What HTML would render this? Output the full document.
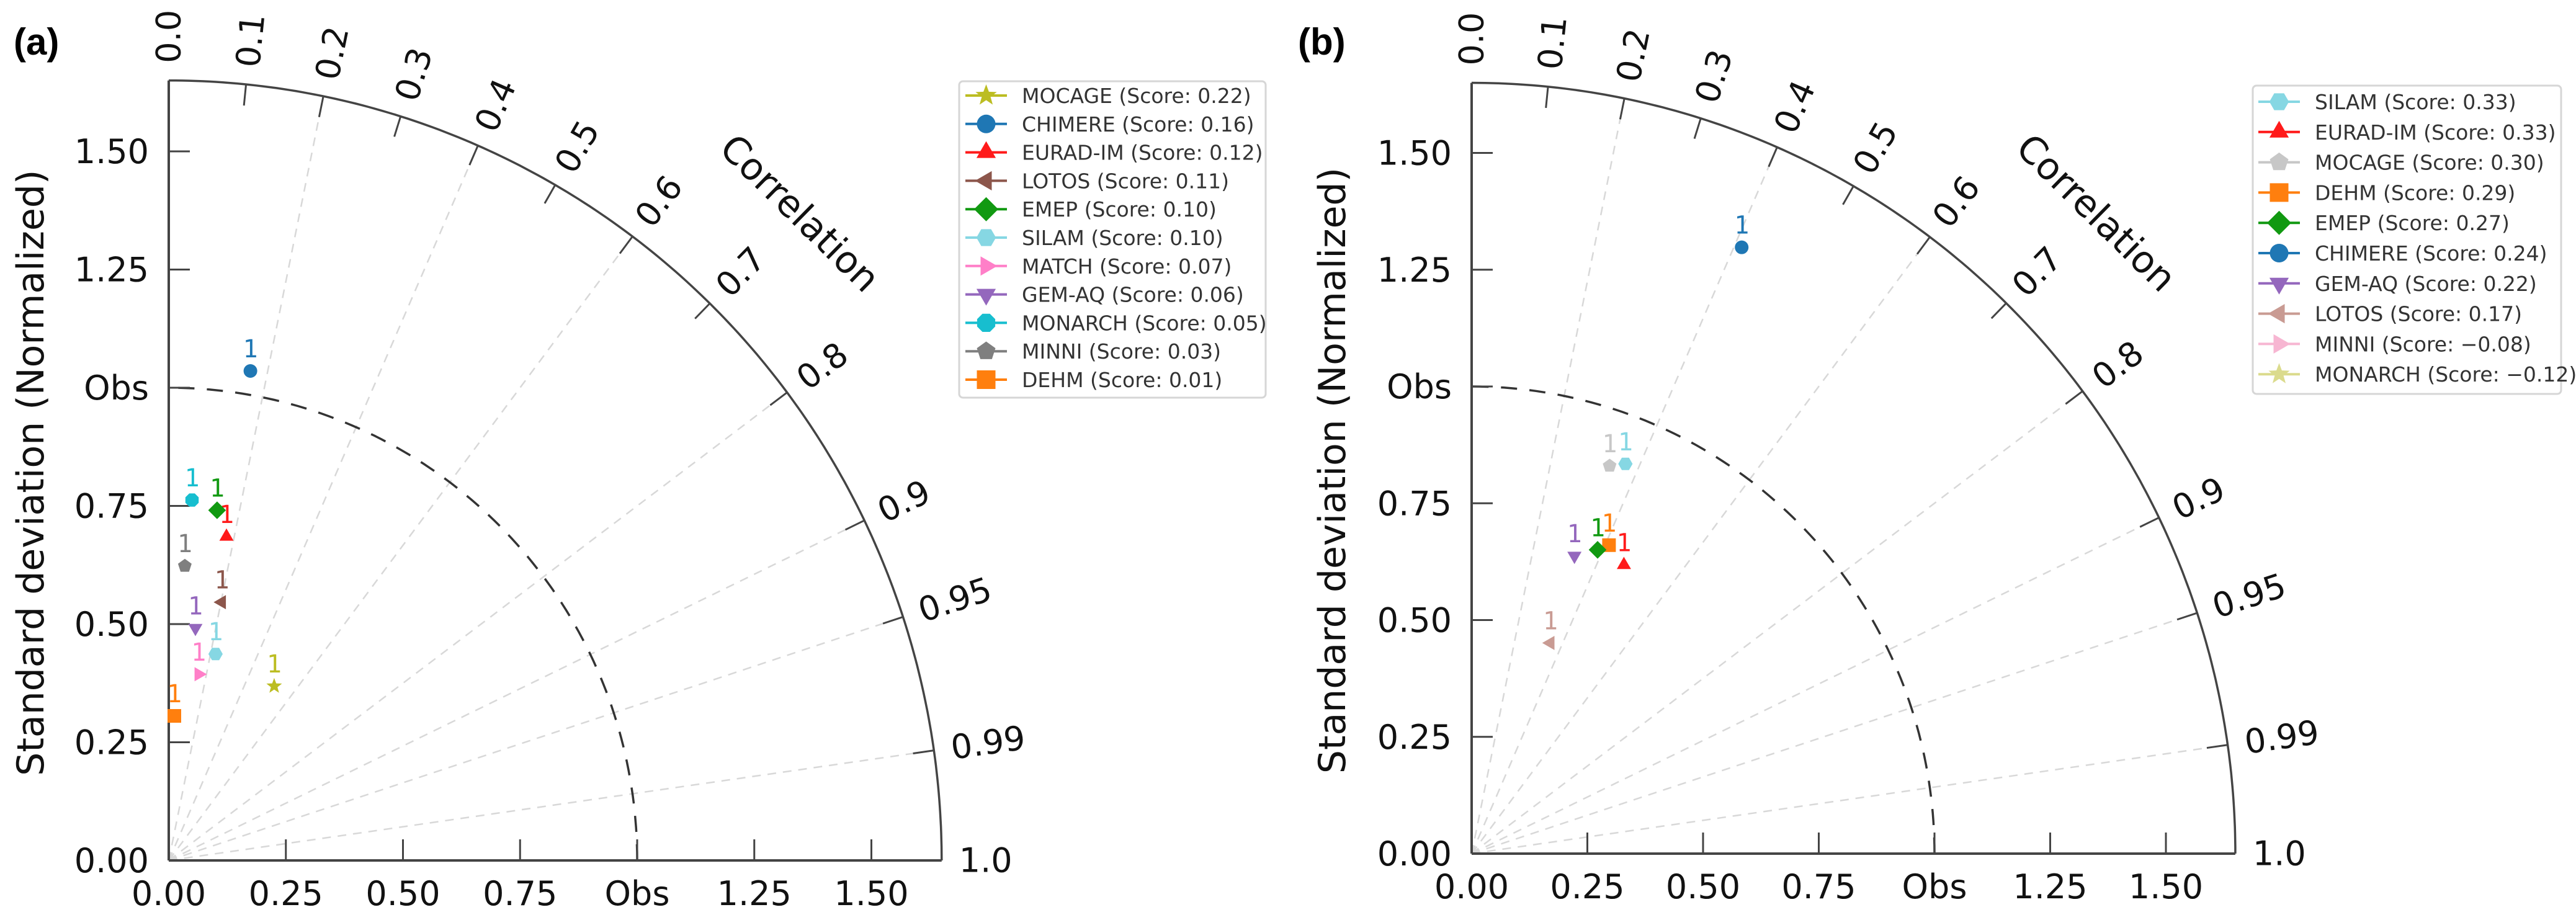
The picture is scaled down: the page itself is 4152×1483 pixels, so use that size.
<!DOCTYPE html>
<html><head><meta charset="utf-8">
<style>
html,body{margin:0;padding:0;background:#fff;}
svg{display:block;font-family:"DejaVu Sans","Liberation Sans",sans-serif;}
</style></head>
<body>
<svg id="fig" width="4152" height="1483" viewBox="0 0 4152 1483" xmlns="http://www.w3.org/2000/svg">
<rect width="4152" height="1483" fill="#fff"/>
<text x="22" y="88" font-size="60" font-weight="bold" font-family="Liberation Sans, sans-serif">(a)</text>
<text x="2092" y="88" font-size="60" font-weight="bold" font-family="Liberation Sans, sans-serif">(b)</text>
<g id="panelA"></g>
<g id="panelB"></g>
</svg>
<script>
// ---- Panel (a) data ----
const modelsA = ["MOCAGE","CHIMERE","EURAD-IM","LOTOS","EMEP","SILAM","MATCH","GEM-AQ","MONARCH","MINNI","DEHM"];
const scoresA = ["0.22","0.16","0.12","0.11","0.10","0.10","0.07","0.06","0.05","0.03","0.01"];
const stdA  = [0.432,1.050,0.696,0.558,0.748,0.448,0.399,0.495,0.764,0.624,0.306];
const corrA = [0.521,0.166,0.177,0.203,0.138,0.223,0.160,0.115,0.065,0.055,0.039];
const colorsA = ["#bcbd22","#1f77b4","#ff1a1a","#8c564b","#119911","#86d7e3","#ff7fc8","#9467bd","#17becf","#7f7f7f","#ff7f0e"];
const markersA = ["star","circle","tri-up","tri-left","diamond","hexagon","tri-right","tri-down","octagon","pentagon","square"];
// ---- Panel (b) data ----
const modelsB = ["SILAM","EURAD-IM","MOCAGE","DEHM","EMEP","CHIMERE","GEM-AQ","LOTOS","MINNI","MONARCH"];
const scoresB = ["0.33","0.33","0.30","0.29","0.27","0.24","0.22","0.17","\u22120.08","\u22120.12"];
const stdB  = [0.898,0.700,0.882,0.724,0.705,1.423,0.675,0.482,null,null];
const corrB = [0.370,0.470,0.338,0.410,0.386,0.410,0.329,0.353,null,null];
const colorsB = ["#86d7e3","#ff1a1a","#c7c7c7","#ff7f0e","#119911","#1f77b4","#9467bd","#c99b93","#f7b6d2","#dbdb8d"];
const markersB = ["hexagon","tri-up","pentagon","square","diamond","circle","tri-down","tri-left","tri-right","star"];
// ---- Axis ticks ----
const stdTicks = [0,0.25,0.5,0.75,1.0,1.25,1.5];
const stdTickLabels = ["0.00","0.25","0.50","0.75","Obs","1.25","1.50"];
const corrTicks = [0,0.1,0.2,0.3,0.4,0.5,0.6,0.7,0.8,0.9,0.95,0.99,1.0];
const corrTickLabels = ["0.0","0.1","0.2","0.3","0.4","0.5","0.6","0.7","0.8","0.9","0.95","0.99","1.0"];
const corrGrid = [0.2,0.4,0.6,0.8,0.9,0.95,0.99];
const stdMax = 1.65;

const NS="http://www.w3.org/2000/svg";
function mk(tag,attrs,parent){const e=document.createElementNS(NS,tag);for(const k in attrs)e.setAttribute(k,attrs[k]);if(parent)parent.appendChild(e);return e;}

function markerPath(type,cx,cy,r){
  const pts=[];
  function poly(n,rot,rad){const p=[];for(let i=0;i<n;i++){const a=rot+i*2*Math.PI/n;p.push([cx+rad*Math.cos(a),cy+rad*Math.sin(a)]);}return p;}
  let p;
  switch(type){
    case "circle": return {tag:"circle",a:{cx:cx,cy:cy,r:r}};
    case "square": p=[[cx-r,cy-r],[cx+r,cy-r],[cx+r,cy+r],[cx-r,cy+r]];break;
    case "diamond": p=[[cx,cy-r*1.3],[cx+r*1.3,cy],[cx,cy+r*1.3],[cx-r*1.3,cy]];break;
    case "tri-up": p=poly(3,-Math.PI/2,r*1.2);break;
    case "tri-down": p=poly(3,Math.PI/2,r*1.2);break;
    case "tri-left": p=poly(3,Math.PI,r*1.2);break;
    case "tri-right": p=poly(3,0,r*1.2);break;
    case "pentagon": p=poly(5,-Math.PI/2,r*1.05);break;
    case "hexagon": p=poly(6,0,r*1.05);break;
    case "octagon": p=poly(8,Math.PI/8,r*1.05);break;
    case "star": p=[];for(let i=0;i<10;i++){const a=-Math.PI/2+i*Math.PI/5;const rr=i%2?r*0.5:r*1.2;p.push([cx+rr*Math.cos(a),cy+rr*Math.sin(a)]);}break;
  }
  return {tag:"polygon",a:{points:p.map(q=>q[0].toFixed(1)+","+q[1].toFixed(1)).join(" ")}};
}

function drawPanel(g,cfg,models,scores,std,corr,colors,markers){
  const ox=cfg.ox, oy=cfg.oy, sx=cfg.sx, sy=cfg.sy;
  const X=(s,c)=>ox+sx*s*c;
  const Y=(s,c)=>oy-sy*s*Math.sqrt(Math.max(0,1-c*c));
  // grid lines
  corrGrid.forEach(c=>{
    const l=mk("line",{x1:ox,y1:oy,x2:X(stdMax,c),y2:Y(stdMax,c),stroke:"#d8d8d8","stroke-width":2.5,"stroke-dasharray":"14,11"},g);
    
    
  });
  // obs dashed arc
  let d="";
  for(let i=0;i<=90;i++){const c=Math.cos(i*Math.PI/180);d+=(i?"L":"M")+X(1,c).toFixed(1)+","+Y(1,c).toFixed(1);}
  const obs=mk("path",{d:d,fill:"none",stroke:"#333","stroke-width":3.5,"stroke-dasharray":"26,20"},g);
  
  
  // outer arc
  d="";
  for(let i=0;i<=180;i++){const c=Math.cos(i*Math.PI/360);d+=(i?"L":"M")+X(stdMax,c).toFixed(1)+","+Y(stdMax,c).toFixed(1);}
  const arc=mk("path",{d:d,fill:"none",stroke:"#444","stroke-width":3.5},g);
  
  
  // axes
  const ya=mk("line",{x1:ox,y1:oy,x2:ox,y2:oy-sy*stdMax,stroke:"#444","stroke-width":4},g);
  
  
  const xa=mk("line",{x1:ox,y1:oy,x2:ox+sx*stdMax,y2:oy,stroke:"#444","stroke-width":4},g);
  
  
  // std ticks
  stdTicks.forEach((v,i)=>{
    const ty=oy-sy*v, tx=ox+sx*v;
    if(v>0){
      const t1=mk("line",{x1:ox,y1:ty,x2:ox+34,y2:ty,stroke:"#444","stroke-width":3},g);
      
      
      const t2=mk("line",{x1:tx,y1:oy,x2:tx,y2:oy-34,stroke:"#444","stroke-width":3},g);
      
      
    }
    const yl=mk("text",{x:ox-32,y:ty+19,"font-size":54,"text-anchor":"end",fill:"#111"},g);
    yl.textContent=stdTickLabels[i];
    
    
    const xl=mk("text",{x:tx,y:oy+72,"font-size":54,"text-anchor":"middle",fill:"#111"},g);
    xl.textContent=stdTickLabels[i];
    
    
  });
  // correlation ticks
  corrTicks.forEach((c,i)=>{
    const th=Math.acos(c);
    const R=stdMax;
    if(c>0&&c<1){
      const r2=R-34/sx;
      const t=mk("line",{x1:X(R,c),y1:Y(R,c),x2:X(r2,c),y2:Y(r2,c),stroke:"#444","stroke-width":3},g);
      
      
    }
    const px=ox+(sx*R+28)*Math.cos(th), py=oy-(sy*R+28)*Math.sin(th);
    const deg=-th*180/Math.PI;
    const tl=mk("text",{x:px,y:py,"font-size":54,"dominant-baseline":"central",fill:"#111",transform:`rotate(${deg.toFixed(2)} ${px.toFixed(1)} ${py.toFixed(1)})`},g);
    tl.textContent=corrTickLabels[i];
    
    
  });
  // correlation title
  const ang=45.5*Math.PI/180;
  const cx=ox+(sx*stdMax+205)*Math.cos(ang), cy=oy-(sy*stdMax+205)*Math.sin(ang);
  const ct=mk("text",{x:cx,y:cy,"font-size":60,"text-anchor":"middle","dominant-baseline":"central",fill:"#111",transform:`rotate(44.5 ${cx.toFixed(1)} ${cy.toFixed(1)})`},g);
  ct.textContent="Correlation";
  
  
  // y title
  const yx=cfg.ytx, yy=oy-sy*0.82;
  const yt=mk("text",{x:yx,y:yy,"font-size":60,"text-anchor":"middle",fill:"#111",transform:`rotate(-90 ${yx} ${yy})`},g);
  yt.textContent="Standard deviation (Normalized)";
  
  
  // points
  models.forEach((m,i)=>{
    if(std[i]==null) return;
    const px=X(std[i],corr[i]), py=Y(std[i],corr[i]);
    const mp=markerPath(markers[i],px,py,11);
    const el=mk(mp.tag,Object.assign({fill:colors[i]},mp.a),g);
    
    
    const lb=mk("text",{x:px,y:py-22,"font-size":40,"text-anchor":"middle",fill:colors[i],"font-family":"DejaVu Sans Mono, monospace"},g);
    lb.textContent="1";
    
    
  });
  // legend
  const L=cfg.leg;
  const lg=mk("g",{},g);
  
  
  const box=mk("rect",{x:L.x,y:L.y,width:L.w,height:L.h,rx:6,fill:"#fff",stroke:"#d6d6d6","stroke-width":3},lg);
  
  
  models.forEach((m,i)=>{
    const ry=L.row0+i*L.dy;
    const e=mk("g",{},lg);
    
    
    mk("line",{x1:L.lx1,y1:ry,x2:L.lx2,y2:ry,stroke:colors[i],"stroke-width":4},e);
    const mp=markerPath(markers[i],(L.lx1+L.lx2)/2,ry,15);
    mk(mp.tag,Object.assign({fill:colors[i]},mp.a),e);
    const t=mk("text",{x:L.tx,y:ry+12,"font-size":33,fill:"#333"},e);
    t.textContent=m+" (Score: "+scores[i]+")";
  });
}

drawPanel(document.getElementById("panelA"),
  {ox:272,oy:1387,sx:755,sy:762,ytx:70,
   leg:{x:1546,y:131,w:494,h:510,row0:154,dy:45.8,lx1:1556,lx2:1623,tx:1647}},
  modelsA,scoresA,stdA,corrA,colorsA,markersA);
drawPanel(document.getElementById("panelB"),
  {ox:2372,oy:1376,sx:746,sy:753,ytx:2168,
   leg:{x:3631,y:138,w:497,h:497,row0:164,dy:48.8,lx1:3640,lx2:3707,tx:3731}},
  modelsB,scoresB,stdB,corrB,colorsB,markersB);
</script>
</body></html>
